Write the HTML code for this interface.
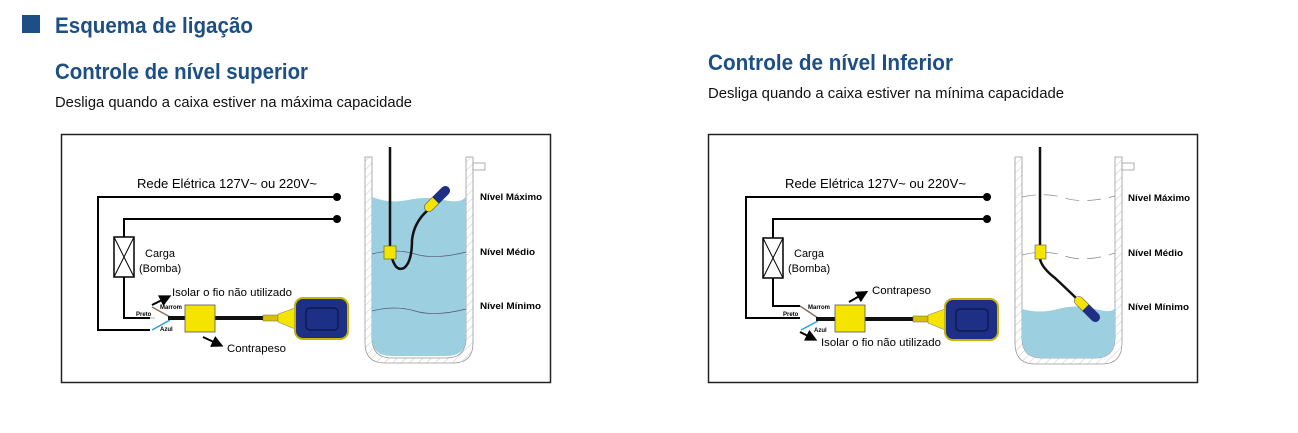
<!DOCTYPE html>
<html><head><meta charset="utf-8"><style>
html,body{margin:0;padding:0;background:#fff;width:1298px;height:433px;overflow:hidden}
svg{display:block}
</style></head><body>
<svg width="1298" height="433" viewBox="0 0 1298 433" xmlns="http://www.w3.org/2000/svg" font-family="Liberation Sans, sans-serif">
<defs>
<pattern id="h" width="6" height="6" patternUnits="userSpaceOnUse" patternTransform="rotate(45)">
<rect width="6" height="6" fill="#fff"/><line x1="0" y1="0" x2="0" y2="6" stroke="#bbb" stroke-width="0.8"/></pattern>
<marker id="ar" markerWidth="6" markerHeight="6" refX="3" refY="3" orient="auto"><path d="M0,0 L6,3 L0,6 z" fill="#000"/></marker>
</defs>
<rect x="22" y="15" width="18" height="18" fill="#1d4f85"/>
<g fill="#1d4f85" font-weight="bold">
<text x="55" y="33" font-size="22" textLength="198" lengthAdjust="spacingAndGlyphs">Esquema de ligação</text>
<text x="55" y="79" font-size="22" textLength="253" lengthAdjust="spacingAndGlyphs">Controle de nível superior</text>
<text x="708" y="70" font-size="22" textLength="245" lengthAdjust="spacingAndGlyphs">Controle de nível Inferior</text>
</g>
<text x="55" y="107" font-size="15" fill="#111" textLength="357" lengthAdjust="spacingAndGlyphs">Desliga quando a caixa estiver na máxima capacidade</text>
<text x="708" y="98" font-size="15" fill="#111" textLength="356" lengthAdjust="spacingAndGlyphs">Desliga quando a caixa estiver na mínima capacidade</text>

<!-- LEFT -->
<g>
<rect x="61.5" y="134.5" width="489" height="248" fill="#fff" stroke="#222" stroke-width="1.5"/>
<text x="137" y="188" font-size="13" textLength="180" lengthAdjust="spacingAndGlyphs">Rede Elétrica 127V~ ou 220V~</text>
<g fill="none" stroke="#000" stroke-width="2">
<path d="M337,197 H98 V330 H150"/>
<path d="M337,219 H124 V237 M124,277 V318 H150"/>
</g>
<circle cx="337" cy="197" r="4"/><circle cx="337" cy="219" r="4"/>
<rect x="114" y="237" width="20" height="40" fill="#fff" stroke="#000" stroke-width="1.5"/>
<path d="M114,237 L134,277 M134,237 L114,277" stroke="#000" stroke-width="1"/>
<text x="145" y="257" font-size="11">Carga</text>
<text x="139" y="272" font-size="11">(Bomba)</text>
<line x1="152" y1="307" x2="170" y2="317" stroke="#8a7060" stroke-width="1.5"/>
<line x1="152" y1="330" x2="170" y2="320" stroke="#2aa0e0" stroke-width="1.5"/>
<line x1="150" y1="318" x2="155" y2="318" stroke="#ccc" stroke-width="1.5"/>
<line x1="168" y1="318" x2="265" y2="318" stroke="#111" stroke-width="4"/>
<text x="136" y="316" font-size="6" font-weight="bold">Preto</text>
<text x="160" y="309" font-size="6" font-weight="bold">Marrom</text>
<text x="160" y="331" font-size="6" font-weight="bold">Azul</text>
<line x1="152" y1="305" x2="166" y2="298" stroke="#000" stroke-width="2" marker-end="url(#ar)"/>
<text x="172" y="296" font-size="11" textLength="120" lengthAdjust="spacingAndGlyphs">Isolar o fio não utilizado</text>
<rect x="185" y="305" width="30" height="27" fill="#f5e400" stroke="#555" stroke-width="0.8"/>
<line x1="203" y1="337" x2="218" y2="344" stroke="#000" stroke-width="2" marker-end="url(#ar)"/>
<text x="227" y="352" font-size="11" textLength="59" lengthAdjust="spacingAndGlyphs">Contrapeso</text>
<rect x="263" y="315" width="15" height="6" fill="#d8c000" stroke="#665" stroke-width="0.5"/>
<path d="M278,314 L295,308 L295,329 L278,322 z" fill="#f5e400" stroke="#776" stroke-width="0.5"/>
<rect x="295" y="298" width="53" height="41" rx="8" fill="#1e2f86" stroke="#c8b400" stroke-width="2"/>
<rect x="306" y="308" width="32" height="22" rx="4" fill="none" stroke="#0c1445" stroke-width="1.2"/>
<!-- tank -->
<path d="M365,157 V343 Q365,363 385,363 H453 Q473,363 473,343 V157 H466 V338 Q466,358 446,358 H392 Q372,358 372,338 V157 z" fill="url(#h)" stroke="#999" stroke-width="0.8"/>
<rect x="473" y="163" width="12" height="7" fill="#fff" stroke="#999" stroke-width="0.8"/>
<path d="M372,197 Q390,204 408,200 T444,200 T466,196 V338 Q466,356 446,356 H392 Q372,356 372,338 z" fill="#9ccfe0"/>
<path d="M372,254 Q395,248 415,254 T466,252 M372,311 Q395,305 415,311 T466,309" fill="none" stroke="#557" stroke-width="0.7"/>
<line x1="390" y1="147" x2="390" y2="247" stroke="#111" stroke-width="2.5"/>
<path d="M392,258 Q396,272 404,268 Q412,262 412,240 Q414,222 428,210" fill="none" stroke="#111" stroke-width="2.5"/>
<rect x="384" y="246" width="12" height="13" fill="#f5e400" stroke="#555" stroke-width="0.6"/>
<g transform="translate(437,199) rotate(-45)">
<rect x="-16" y="-4.5" width="32" height="9" rx="4.5" fill="#f5e400" stroke="#555" stroke-width="0.6"/>
<path d="M-2,-4.5 H12 A4.5,4.5 0 0 1 12,4.5 H-2 z" fill="#1e2f86"/>
</g>
<g font-size="9" font-weight="bold">
<text x="480" y="200" textLength="62" lengthAdjust="spacingAndGlyphs">Nível Máximo</text>
<text x="480" y="255" textLength="55" lengthAdjust="spacingAndGlyphs">Nível Médio</text>
<text x="480" y="309" textLength="61" lengthAdjust="spacingAndGlyphs">Nível Mínimo</text>
</g>
</g>

<!-- RIGHT -->
<g>
<rect x="708.5" y="134.5" width="489" height="248" fill="#fff" stroke="#222" stroke-width="1.5"/>
<text x="785" y="188" font-size="13" textLength="181" lengthAdjust="spacingAndGlyphs">Rede Elétrica 127V~ ou 220V~</text>
<g fill="none" stroke="#000" stroke-width="2">
<path d="M987,197 H746 V318 H800"/>
<path d="M987,219 H773 V238 M773,278 V306 H800"/>
</g>
<circle cx="987" cy="197" r="4"/><circle cx="987" cy="219" r="4"/>
<rect x="763" y="238" width="20" height="40" fill="#fff" stroke="#000" stroke-width="1.5"/>
<path d="M763,238 L783,278 M783,238 L763,278" stroke="#000" stroke-width="1"/>
<text x="794" y="257" font-size="11">Carga</text>
<text x="788" y="272" font-size="11">(Bomba)</text>
<line x1="800" y1="306" x2="818" y2="318" stroke="#8a7060" stroke-width="1.5"/>
<line x1="801" y1="330" x2="818" y2="321" stroke="#2aa0e0" stroke-width="1.5"/>
<line x1="816" y1="319" x2="913" y2="319" stroke="#111" stroke-width="4"/>
<text x="783" y="316" font-size="6" font-weight="bold">Preto</text>
<text x="808" y="309" font-size="6" font-weight="bold">Marrom</text>
<text x="814" y="332" font-size="6" font-weight="bold">Azul</text>
<line x1="800" y1="332" x2="812" y2="338" stroke="#000" stroke-width="2" marker-end="url(#ar)"/>
<text x="821" y="346" font-size="11" textLength="120" lengthAdjust="spacingAndGlyphs">Isolar o fio não utilizado</text>
<rect x="835" y="305" width="30" height="27" fill="#f5e400" stroke="#555" stroke-width="0.8"/>
<line x1="849" y1="302" x2="863" y2="294" stroke="#000" stroke-width="2" marker-end="url(#ar)"/>
<text x="872" y="294" font-size="11" textLength="59" lengthAdjust="spacingAndGlyphs">Contrapeso</text>
<rect x="913" y="316" width="15" height="6" fill="#d8c000" stroke="#665" stroke-width="0.5"/>
<path d="M928,315 L945,309 L945,330 L928,323 z" fill="#f5e400" stroke="#776" stroke-width="0.5"/>
<rect x="945" y="299" width="53" height="41" rx="8" fill="#1e2f86" stroke="#c8b400" stroke-width="2"/>
<rect x="956" y="309" width="32" height="22" rx="4" fill="none" stroke="#0c1445" stroke-width="1.2"/>
<path d="M1015,157 V343 Q1015,364 1035,364 H1102 Q1122,364 1122,343 V157 H1115 V338 Q1115,358 1095,358 H1042 Q1022,358 1022,338 V157 z" fill="url(#h)" stroke="#999" stroke-width="0.8"/>
<rect x="1122" y="163" width="12" height="7" fill="#fff" stroke="#999" stroke-width="0.8"/>
<path d="M1022,309 Q1040,314 1058,309 T1095,309 T1115,307 V338 Q1115,358 1095,358 H1042 Q1022,358 1022,338 z" fill="#9ccfe0"/>
<path d="M1022,197 Q1045,192 1065,198 T1115,196 M1022,255 Q1045,249 1065,256 T1115,253" fill="none" stroke="#888" stroke-width="0.7" stroke-dasharray="14,8"/>
<line x1="1040" y1="147" x2="1040" y2="246" stroke="#111" stroke-width="2.5"/>
<path d="M1040,259 Q1042,268 1055,278 Q1070,292 1078,300" fill="none" stroke="#111" stroke-width="2.5"/>
<rect x="1035" y="245" width="11" height="14" fill="#f5e400" stroke="#555" stroke-width="0.6"/>
<g transform="translate(1087,309) rotate(45)">
<rect x="-16" y="-4.5" width="32" height="9" rx="4.5" fill="#f5e400" stroke="#555" stroke-width="0.6"/>
<path d="M-12,-4.5 H2 V4.5 H-12 A4.5,4.5 0 0 1 -12,-4.5 z" fill="#1e2f86" transform="rotate(180)"/>
</g>
<g font-size="9" font-weight="bold">
<text x="1128" y="201" textLength="62" lengthAdjust="spacingAndGlyphs">Nível Máximo</text>
<text x="1128" y="256" textLength="55" lengthAdjust="spacingAndGlyphs">Nível Médio</text>
<text x="1128" y="310" textLength="61" lengthAdjust="spacingAndGlyphs">Nível Mínimo</text>
</g>
</g>
</svg>
</body></html>
